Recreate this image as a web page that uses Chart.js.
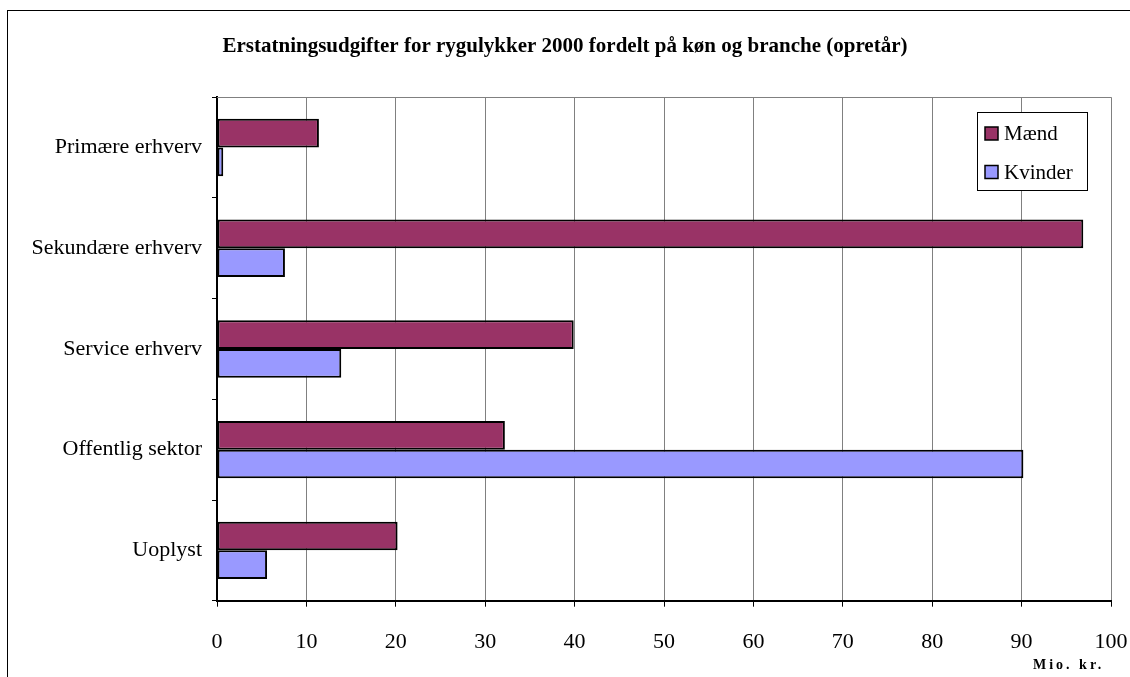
<!DOCTYPE html>
<html>
<head>
<meta charset="utf-8">
<script src="https://cdn.jsdelivr.net/npm/chart.js@4.4.1/dist/chart.umd.min.js"></script>
<style>
  html, body { margin: 0; padding: 0; background: #fff; }
  #wrap { width: 1130px; height: 677px; }
</style>
</head>
<body>
<div id="wrap"><canvas id="c" width="1130" height="677"></canvas></div>
<script>
const categories = ["Primære erhverv", "Sekundære erhverv", "Service erhverv", "Offentlig sektor", "Uoplyst"];
const maend = [11.4, 96.9, 39.9, 32.2, 20.2];
const kvinder = [0.7, 7.6, 13.9, 90.2, 5.6];
const seriesNames = ["Mænd", "Kvinder"];
const titleText = "Erstatningsudgifter for rygulykker 2000 fordelt på køn og branche (opretår)";
const unitText = "Mio. kr.";
const xMin = 0, xMax = 100, xStep = 10;

const SERIF = "'Liberation Serif', 'Times New Roman', serif";

const framePlugin = {
  id: 'frame',
  beforeDraw(chart) {
    const ctx = chart.ctx;
    ctx.save();
    ctx.fillStyle = '#fff';
    ctx.fillRect(0, 0, chart.width, chart.height);
    ctx.strokeStyle = '#000';
    ctx.lineWidth = 1;
    ctx.strokeRect(7.5, 10.5, 1400, 1000);
    ctx.restore();
  },
  afterDatasetsDraw(chart) {
    const ctx = chart.ctx;
    const a = chart.chartArea;
    ctx.save();
    ctx.strokeStyle = '#808080';
    ctx.lineWidth = 1;
    ctx.beginPath();
    ctx.moveTo(a.left, Math.round(a.top) + 0.5);
    ctx.lineTo(a.right, Math.round(a.top) + 0.5);
    ctx.stroke();
    ctx.restore();
  },
  afterDraw(chart) {
    const ctx = chart.ctx;
    ctx.save();
    // legend box
    const lx = 977, ly = 112, lw = 110, lh = 78;
    ctx.fillStyle = '#fff';
    ctx.fillRect(lx, ly, lw, lh);
    ctx.strokeStyle = '#000';
    ctx.lineWidth = 1;
    ctx.strokeRect(lx + 0.5, ly + 0.5, lw, lh);
    const rows = [133.5, 172];
    chart.data.datasets.forEach((ds, i) => {
      const y = rows[i];
      ctx.fillStyle = ds.backgroundColor;
      ctx.fillRect(985, y - 6.5, 13, 13);
      ctx.strokeStyle = '#000';
      ctx.lineWidth = 1.5;
      ctx.strokeRect(985, y - 6.5, 13, 13);
      ctx.fillStyle = '#000';
      ctx.font = '21px ' + SERIF;
      ctx.textBaseline = 'middle';
      ctx.textAlign = 'left';
      ctx.fillText(ds.label, 1004, y + 1);
    });
    // unit label
    ctx.fillStyle = '#000';
    ctx.font = 'bold 14px ' + SERIF;
    ctx.textBaseline = 'middle';
    ctx.textAlign = 'left';
    if ('letterSpacing' in ctx) ctx.letterSpacing = '3px';
    ctx.fillText(unitText, 1033, 665);
    ctx.restore();
  }
};

new Chart(document.getElementById('c'), {
  type: 'bar',
  data: {
    labels: categories,
    datasets: [
      { label: seriesNames[0], data: maend, backgroundColor: '#993366', borderColor: '#000', borderWidth: 2, borderSkipped: false },
      { label: seriesNames[1], data: kvinder, backgroundColor: '#9999FF', borderColor: '#000', borderWidth: 2, borderSkipped: false }
    ]
  },
  options: {
    indexAxis: 'y',
    responsive: false,
    animation: false,
    devicePixelRatio: 1,
    categoryPercentage: 0.57,
    barPercentage: 1,
    layout: { padding: { left: 19, right: 19, top: 10, bottom: 0 } },
    plugins: {
      legend: { display: false },
      tooltip: { enabled: false },
      title: {
        display: true,
        text: titleText,
        color: '#000',
        font: { family: SERIF, size: 21, weight: 'bold' },
        padding: { top: 24, bottom: 38 }
      }
    },
    scales: {
      x: {
        type: 'linear',
        min: xMin, max: xMax,
        ticks: { stepSize: xStep, color: '#000', font: { family: SERIF, size: 22 }, padding: 22, maxRotation: 0 },
        grid: { color: '#808080', lineWidth: 1, tickLength: 6, tickColor: '#000', drawOnChartArea: true },
        border: { color: '#000', width: 2 },
        afterFit(scale) { scale.height = 76.3; scale.paddingLeft = 0; scale.paddingRight = 0; }
      },
      y: {
        type: 'category',
        offset: true,
        ticks: { color: '#000', font: { family: SERIF, size: 22 }, padding: 10 },
        grid: { offset: true, drawOnChartArea: false, tickLength: 5, color: '#000', tickColor: '#000' },
        border: { color: '#000', width: 2 },
        afterFit(scale) { scale.width = 198; }
      }
    }
  },
  plugins: [framePlugin]
});
</script>
</body>
</html>
